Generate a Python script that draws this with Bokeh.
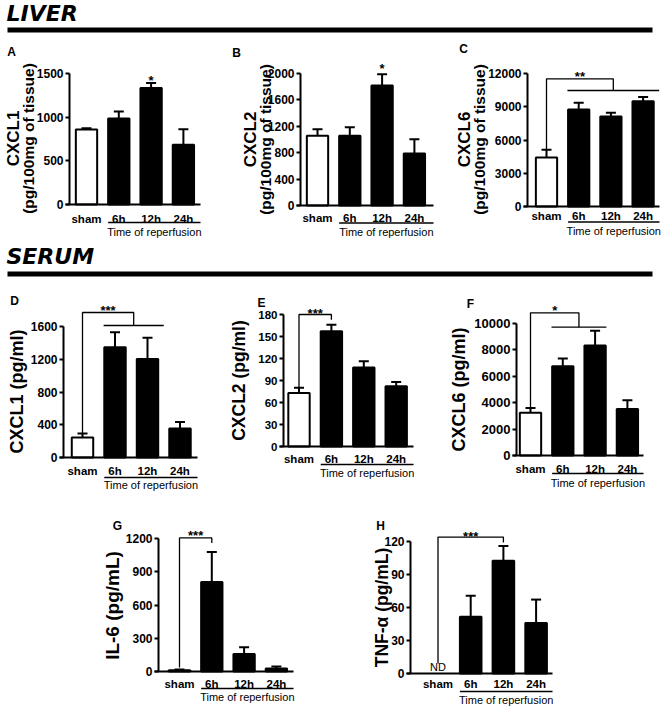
import math
from bokeh.plotting import figure
from bokeh.models import Range1d, LinearAxis, FixedTicker, Whisker, TeeHead, ColumnDataSource
from bokeh.layouts import column, row
from bokeh.core.properties import value
from bokeh.embed import file_html
from bokeh.resources import INLINE

# ---------------- data ----------------
categories = ["sham", "6h", "12h", "24h"]
group_label = "Time of reperfusion"

liver_cxcl1 = [858, 985, 1335, 685]
liver_cxcl1_sem = [15, 80, 57, 177]
liver_cxcl2 = [1055, 1055, 1817, 787]
liver_cxcl2_sem = [101, 131, 172, 217]
liver_cxcl6 = [4424, 8758, 8121, 9485]
liver_cxcl6_sem = [697, 606, 334, 394]

serum_cxcl1 = [244, 1348, 1202, 353]
serum_cxcl1_sem = [48, 183, 260, 82]
serum_cxcl2 = [72.9, 157.3, 107.6, 82.0]
serum_cxcl2_sem = [7.3, 8.7, 8.7, 6.0]
serum_cxcl6 = [3240, 6759, 8329, 3519]
serum_cxcl6_sem = [355, 583, 1114, 658]
serum_il6 = [12, 807, 157, 27]
serum_il6_sem = [6, 272, 61, 18]
serum_tnf = [None, 51.6, 102.5, 45.8]      # sham: not detected (ND)
serum_tnf_sem = [None, 19.0, 13.5, 21.4]

ticks_a = [0, 500, 1000, 1500]
ticks_b = [0, 400, 800, 1200, 1600, 2000]
ticks_c = [0, 3000, 6000, 9000, 12000]
ticks_d = [0, 400, 800, 1200, 1600]
ticks_e = [0, 30, 60, 90, 120, 150, 180]
ticks_f = [0, 2000, 4000, 6000, 8000, 10000]
ticks_g = [0, 300, 600, 900, 1200]
ticks_h = [0, 30, 60, 90, 120]

# significance annotations (value levels on each panel's own scale)
sig_a = dict(kind="star", at=2, text="*")
sig_b = dict(kind="star", at=2, text="*")
sig_c = dict(kind="bracket", top=11522, low=10466, group=(0.65, 3.5), text="**")
sig_d = dict(kind="bracket", top=1771, low=1612, group=(0.65, 2.5), text="***")
sig_e = dict(kind="bracket", top=180, low=173, to=1, text="***")
sig_f = dict(kind="bracket", top=10810, low=9720, group=(0.65, 2.35), text="*")
sig_g = dict(kind="bracket", top=1205, low=1160, to=1, start=36, text="***")
sig_h = dict(kind="bracket", top=124, low=119, to=2, start=9, text="***")

FONT = "Liberation Sans"
BAR_W = 0.66
STAR_FS = 13


def header(txt, fw, fh, ox, oy, mid_y, bar):
    p = figure(width=fw, height=fh, output_backend="svg", toolbar_location=None,
               x_axis_type=None, y_axis_type=None, min_border=0,
               x_range=Range1d(ox, ox + fw), y_range=Range1d(oy + fh, oy),
               outline_line_color=None)
    p.text(x=[6], y=[mid_y], text=[txt], text_font=value("DejaVu Sans"),
           text_font_style="bold italic", text_font_size="22px",
           text_baseline="middle", text_align="left", text_color="black")
    p.quad(left=[7], right=[652], top=[bar[0]], bottom=[bar[1]],
           fill_color="black", line_color=None)
    return p


def panel(fw, fh, ox, oy, g, mean, sem, ticks, letter, titles, sig, nd=False):
    dx, c0, y0 = g["dx"], g["c0"], g["y0"]
    k = (y0 - g["ytop"]) / ticks[-1]
    p = figure(width=fw, height=fh, output_backend="svg", toolbar_location=None,
               x_axis_type=None, y_axis_type=None, min_border=0,
               x_range=Range1d((ox - c0) / dx, (ox + fw - c0) / dx),
               y_range=Range1d((y0 - (oy + fh)) / k, (y0 - oy) / k),
               outline_line_color=None)
    p.extra_x_ranges = {"px": Range1d(ox, ox + fw)}
    p.extra_y_ranges = {"px": Range1d(oy + fh, oy)}

    xs_axis = (g["yaxis"] - c0) / dx
    xend = (g["xend"] - c0) / dx

    yax = LinearAxis(fixed_location=xs_axis, bounds=(0, ticks[-1]),
                     ticker=FixedTicker(ticks=ticks),
                     axis_line_width=2, major_tick_line_width=2,
                     major_tick_out=4, major_tick_in=0,
                     minor_tick_line_color=None,
                     major_label_standoff=2,
                     major_label_text_font=FONT,
                     major_label_text_font_style="bold",
                     major_label_text_font_size=f"{g['tick_fs']}px",
                     major_label_text_color="black")
    p.add_layout(yax, "left")

    xax = LinearAxis(fixed_location=0, bounds=((g["yaxis"] - 4 - c0) / dx, xend),
                     ticker=FixedTicker(ticks=list(range(len(categories)))),
                     major_label_overrides={i: c for i, c in enumerate(categories)},
                     axis_line_width=2, major_tick_line_color=None,
                     major_tick_out=0, major_tick_in=0,
                     minor_tick_line_color=None,
                     major_label_standoff=int(round(g["lab"] - y0 - 6)),
                     major_label_text_font=FONT,
                     major_label_text_font_style="bold",
                     major_label_text_font_size="11.5px",
                     major_label_text_color="black")
    p.add_layout(xax, "below")

    idx = [i for i, v in enumerate(mean) if v is not None]
    src = ColumnDataSource(dict(
        x=idx,
        top=[mean[i] for i in idx],
        upper=[mean[i] + sem[i] for i in idx],
        color=["white" if categories[i] == "sham" else "black" for i in idx],
    ))
    p.add_layout(Whisker(source=src, base="x", upper="upper", lower="top",
                         line_width=2, line_color="black",
                         upper_head=TeeHead(size=10, line_width=2, line_color="black"),
                         lower_head=None))
    p.vbar(x="x", top="top", bottom=0, width=BAR_W, source=src,
           fill_color="color", line_color="black", line_width=2)

    # group underline + label
    ul0 = 1 - BAR_W / 2
    p.line(x=[ul0, xend], y=[g["ul"], g["ul"]], y_range_name="px",
           line_color="black", line_width=1.3)
    p.text(x=[(ul0 + xend) / 2], y=[g["tt"]], text=[group_label], y_range_name="px",
           text_align="center", text_baseline="middle", text_font=value(FONT),
           text_font_size="11px", text_color="black")

    # panel letter
    p.text(x=[g["letter"][0]], y=[g["letter"][1]], text=[letter],
           x_range_name="px", y_range_name="px", text_align="center",
           text_baseline="middle", text_font=value(FONT), text_font_style="bold",
           text_font_size="12px", text_color="black")

    # y titles (rotated)
    for tx, fs, t in zip(g["tx"], g["tfs"], titles):
        p.text(x=[tx], y=[g["ty"]], text=[t], angle=math.pi / 2,
               x_range_name="px", y_range_name="px", text_align="center",
               text_baseline="middle", text_font=value(FONT), text_font_style="bold",
               text_font_size=f"{fs}px", text_color="black")

    # significance
    star_y = g["sty"] + 0.22 * STAR_FS
    star_kw = dict(y_range_name="px", text_align="center", text_baseline="middle",
                   text_font=value(FONT), text_font_style="bold",
                   text_font_size=f"{STAR_FS}px", text_color="black")
    if sig["kind"] == "star":
        p.text(x=[sig["at"]], y=[star_y], text=[sig["text"]], **star_kw)
    else:
        if "group" in sig:
            a, b = sig["group"]
            mid = (a + b) / 2
            p.line(x=[a, b], y=[sig["low"], sig["low"]], line_color="black", line_width=1.3)
        else:
            mid = sig["to"]
        s0 = sig.get("start", (mean[0] or 0) + (sem[0] or 0))
        p.line(x=[0, 0, mid, mid], y=[s0, sig["top"], sig["top"], sig["low"]],
               line_color="black", line_width=1.3)
        p.text(x=[mid / 2], y=[star_y], text=[sig["text"]], **star_kw)

    if nd:
        p.text(x=[0], y=[g["nd_y"]], text=["ND"], y_range_name="px",
               text_align="center", text_baseline="middle", text_font=value(FONT),
               text_font_size="11px", text_color="black")
    return p


# panel geometry (page pixel positions, styles only)
gA = dict(yaxis=69, c0=86, dx=32.3, y0=204, ytop=73, xend=200, lab=218, ul=222, tt=231,
          letter=(11, 51), tx=[13, 28], ty=138, tfs=[17, 15.5], tick_fs=12, sty=77)
gB = dict(yaxis=300, c0=317, dx=32.3, y0=205, ytop=73, xend=433, lab=217, ul=222.5, tt=231.5,
          letter=(236, 52), tx=[250, 265], ty=139, tfs=[17, 15.5], tick_fs=12, sty=65)
gC = dict(yaxis=527, c0=546, dx=32.2, y0=206, ytop=73, xend=659, lab=215, ul=221.5, tt=230.5,
          letter=(463, 48), tx=[464, 479], ty=139, tfs=[17, 15.5], tick_fs=12, sty=73)
gD = dict(yaxis=63, c0=82, dx=32.5, y0=457, ytop=326, xend=197, lab=470, ul=477, tt=484,
          letter=(14, 300), tx=[16], ty=391, tfs=[18], tick_fs=12, sty=307)
gE = dict(yaxis=283, c0=298.5, dx=32.4, y0=446, ytop=314, xend=413, lab=458, ul=464, tt=472,
          letter=(261, 302), tx=[238], ty=380, tfs=[17.5], tick_fs=11.5, sty=310)
gF = dict(yaxis=516, c0=530, dx=32.3, y0=455, ytop=323, xend=643, lab=468, ul=473, tt=482,
          letter=(470, 303), tx=[458], ty=389, tfs=[18], tick_fs=13, sty=307)
gG = dict(yaxis=158, c0=179, dx=32.3, y0=671, ytop=538, xend=293, lab=683, ul=688, tt=696,
          letter=(117, 525), tx=[112], ty=605, tfs=[19], tick_fs=12, sty=532)
gH = dict(yaxis=410, c0=437.5, dx=32.7, y0=673, ytop=541, xend=552, lab=683, ul=691, tt=699,
          letter=(380, 525), tx=[381], ty=607, tfs=[17.5], tick_fs=12, sty=533, nd_y=666)

h1 = header("LIVER", 664, 40, 0, 0, 13, (27, 32))
pA = panel(222, 202, 0, 40, gA, liver_cxcl1, liver_cxcl1_sem, ticks_a, "A",
           ["CXCL1", "(pg/100mg of tissue)"], sig_a)
pB = panel(216, 202, 222, 40, gB, liver_cxcl2, liver_cxcl2_sem, ticks_b, "B",
           ["CXCL2", "(pg/100mg of tissue)"], sig_b)
pC = panel(226, 202, 438, 40, gC, liver_cxcl6, liver_cxcl6_sem, ticks_c, "C",
           ["CXCL6", "(pg/100mg of tissue)"], sig_c)
h2 = header("SERUM", 664, 45, 0, 242, 256, (271, 276))
pD = panel(222, 206, 0, 287, gD, serum_cxcl1, serum_cxcl1_sem, ticks_d, "D",
           ["CXCL1 (pg/ml)"], sig_d)
pE = panel(216, 206, 222, 287, gE, serum_cxcl2, serum_cxcl2_sem, ticks_e, "E",
           ["CXCL2 (pg/ml)"], sig_e)
pF = panel(226, 206, 438, 287, gF, serum_cxcl6, serum_cxcl6_sem, ticks_f, "F",
           ["CXCL6 (pg/ml)"], sig_f)
pG = panel(320, 215, 0, 493, gG, serum_il6, serum_il6_sem, ticks_g, "G",
           ["IL-6 (pg/mL)"], sig_g)
pH = panel(344, 215, 320, 493, gH, serum_tnf, serum_tnf_sem, ticks_h, "H",
           ["TNF-α (pg/mL)"], sig_h, nd=True)

layout = column(h1, row(pA, pB, pC), h2, row(pD, pE, pF), row(pG, pH))

open("out.html", "w").write(file_html(layout, INLINE))
